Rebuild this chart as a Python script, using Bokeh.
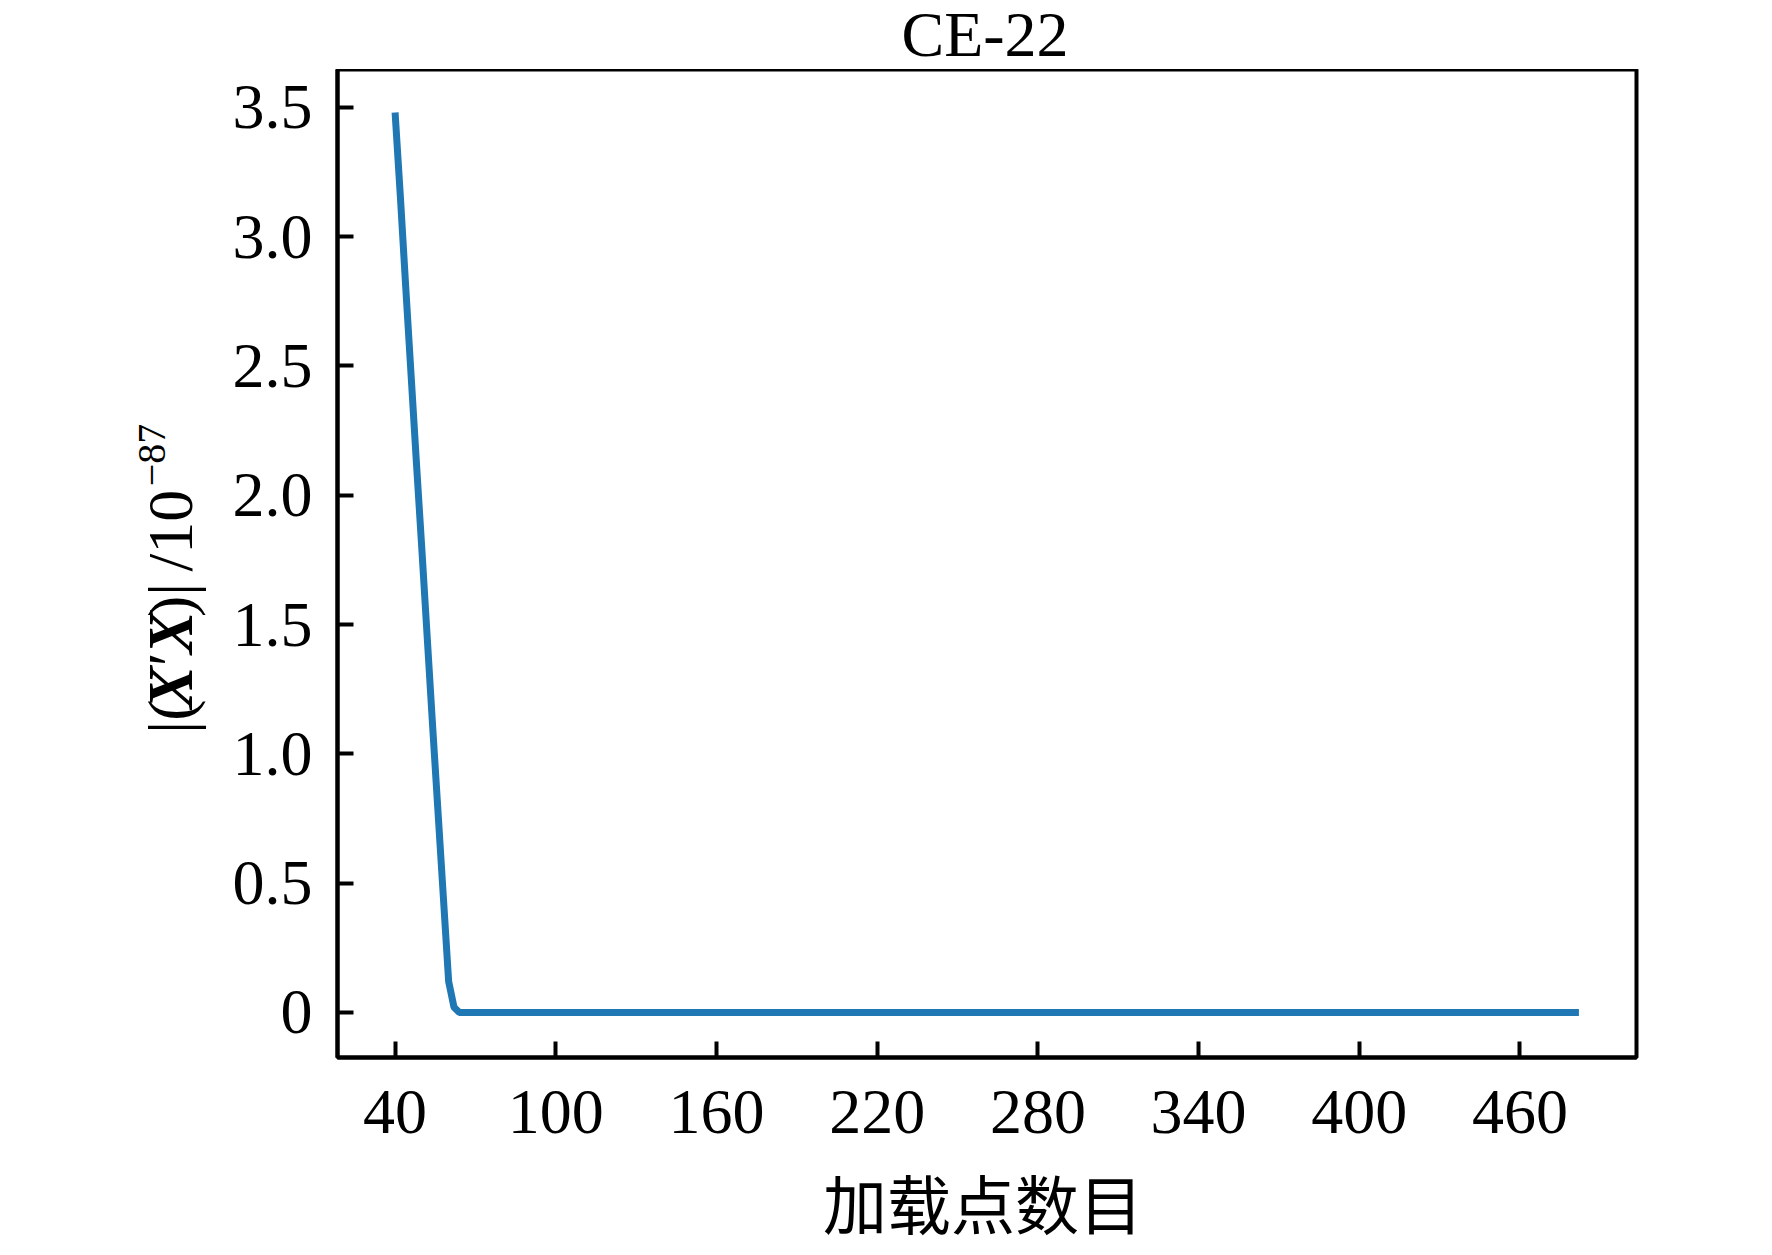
from bokeh.plotting import figure
from bokeh.models import Range1d, FixedTicker, Label
from bokeh.layouts import column, row
from bokeh.embed import file_html
from bokeh.resources import INLINE
import math

# data
load_points = [40, 42, 44, 46, 48, 50, 52, 54, 56, 58, 60, 62, 64, 482]
det_values = [3.48, 3.15, 2.80, 2.46, 2.12, 1.79, 1.45, 1.11, 0.78, 0.45, 0.12, 0.02, 0.0, 0.0]

x_ticks = [40, 100, 160, 220, 280, 340, 400, 460]
y_ticks = [0, 0.5, 1.0, 1.5, 2.0, 2.5, 3.0, 3.5]
y_tick_labels = ["0", "0.5", "1.0", "1.5", "2.0", "2.5", "3.0", "3.5"]

title_text = "CE-22"
x_label = "加载点数目"
# y label pieces: (text, font style, font size px)
y_label_parts = [("|(", "normal", 64), ("X", "bold italic", 64), ("\u2032", "normal", 64),
                 ("X", "bold italic", 64), (")|", "normal", 64), ("/10", "normal", 64),
                 ("\u221287", "normal", 40)]

SERIF = "Liberation Serif"
CJK = "Noto Sans CJK SC"

# layout sizes (pixels)
W, H = 1756, 1247
TOP_H = 69
YLAB_W = 220
FRAME_LEFT = 337
FRAME_W, FRAME_H = 1299, 988
BOTTOM_B = 96
MAIN_W = W - YLAB_W
MAIN_H = FRAME_H + BOTTOM_B
XLAB_H = H - TOP_H - MAIN_H
FRAME_CX = FRAME_LEFT + FRAME_W / 2

X0, X1 = 18.5, 503.5
Y0, Y1 = -0.174, 3.646


def blank(width, height):
    f = figure(width=width, height=height, output_backend="svg", toolbar_location=None,
               x_axis_type=None, y_axis_type=None, min_border=0,
               x_range=Range1d(0, width), y_range=Range1d(0, height))
    f.outline_line_color = None
    f.grid.visible = False
    return f


# title strip
top = blank(W, TOP_H)
top.add_layout(Label(x=FRAME_CX - 2, y=TOP_H - 34, text=title_text, text_font=SERIF, text_font_size="64px",
                     text_color="black", text_align="center", text_baseline="alphabetic"))

# y-label strip (rotated, mixed styles); each piece placed by its centre
ylab = blank(YLAB_W, MAIN_H)
piece_centres = [712, 680, 649, 620, 584, 508, 425]   # page y of piece centres (text reads upward)
piece_across = [170, 170, 170, 170, 170, 170, 151]     # page x of piece centres
ALONG_FIX = 67
for (txt, style, size), cy, cx in zip(y_label_parts, piece_centres, piece_across):
    ylab.add_layout(Label(x=cx, y=TOP_H + MAIN_H - (cy + ALONG_FIX), text=txt, angle=math.pi / 2,
                          text_font=SERIF, text_font_size=f"{size}px", text_font_style=style,
                          text_color="black", text_align="center", text_baseline="middle"))

# main plot
p = figure(width=MAIN_W, height=MAIN_H, output_backend="svg", toolbar_location=None,
           x_range=Range1d(X0, X1), y_range=Range1d(Y0, Y1),
           min_border_left=FRAME_LEFT - YLAB_W, min_border_right=MAIN_W - (FRAME_LEFT - YLAB_W) - FRAME_W,
           min_border_top=0, min_border_bottom=BOTTOM_B)

p.line(load_points, det_values, line_color="#1f77b4", line_width=7)

p.grid.visible = False
p.outline_line_color = "black"
p.outline_line_width = 4
p.outline_line_alpha = 1.0

for ax in (p.xaxis[0], p.yaxis[0]):
    ax.axis_line_color = "black"
    ax.axis_line_width = 4
    ax.major_tick_line_color = "black"
    ax.major_tick_line_width = 4
    ax.major_tick_in = 16
    ax.major_tick_out = 0
    ax.minor_tick_line_color = None
    ax.major_label_text_font = SERIF
    ax.major_label_text_font_size = "64px"
    ax.major_label_text_color = "black"

p.xaxis[0].ticker = FixedTicker(ticks=x_ticks)
p.yaxis[0].ticker = FixedTicker(ticks=y_ticks)
p.yaxis[0].major_label_overrides = {t: s for t, s in zip(y_ticks, y_tick_labels)}
p.xaxis[0].major_label_standoff = 33
p.yaxis[0].major_label_standoff = 25

# x-label strip
xlab = blank(W, XLAB_H)
xlab.add_layout(Label(x=FRAME_CX - 4, y=XLAB_H / 2, text=x_label, text_font=CJK,
                      text_font_size="64px", text_color="black", text_align="center",
                      text_baseline="middle"))

layout = column(top, row(ylab, p), xlab)
open("out.html", "w").write(file_html(layout, INLINE))
